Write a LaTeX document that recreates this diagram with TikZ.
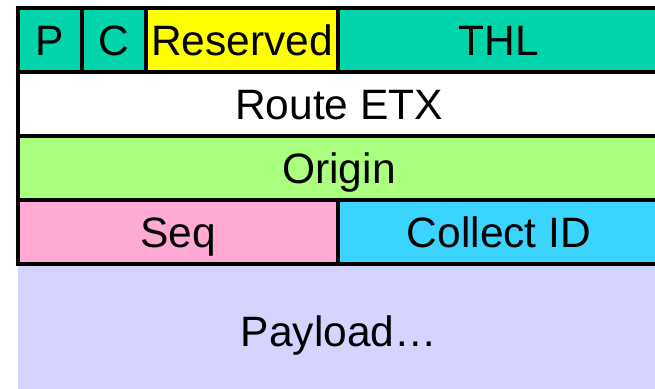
\documentclass[tikz,border=0pt]{standalone}
\usepackage{fontspec}
\setmainfont{Liberation Sans}
\usetikzlibrary{positioning}

\definecolor{hdrteal}{RGB}{0,212,170}
\definecolor{resyellow}{RGB}{255,255,0}
\definecolor{origgreen}{RGB}{170,255,127}
\definecolor{seqpink}{RGB}{255,170,212}
\definecolor{colcyan}{RGB}{58,212,255}
\definecolor{paylav}{RGB}{212,212,255}

\begin{document}
\begin{tikzpicture}[x=1pt,y=-1pt,node distance=0pt,
    field/.style={draw,line width=4pt,inner sep=0pt,outer sep=0pt,
      minimum height=64pt,text height=30.5pt,text depth=0pt,
      font=\fontsize{42.5}{44}\selectfont}]
  \clip (0,0) rectangle (655,388);
  % first row
  \node[field,fill=hdrteal,minimum width=64pt,anchor=north west] (p) at (18,8) {P};
  \node[field,fill=hdrteal,minimum width=64pt] [right=of p] (c) {C};
  \node[field,fill=resyellow,minimum width=192pt] [right=of c] (res) {Reserved};
  \node[field,fill=hdrteal,minimum width=322pt] [right=of res] (thl) {THL};
  % full rows
  \node[field,fill=white,minimum width=642pt,anchor=north west] (route) at (p.south west) {Route ETX};
  \node[field,fill=origgreen,minimum width=642pt] [below=of route] (origin) {Origin};
  % seq / collect
  \node[field,fill=seqpink,minimum width=320pt,anchor=north west] (seq) at (origin.south west) {Seq};
  \node[field,fill=colcyan,minimum width=322pt] [right=of seq] (collect) {Collect ID};
  % payload
  \node[field,draw=none,fill=paylav,minimum width=642pt,minimum height=134pt,
    anchor=north west] (payload) at (seq.south west) {Payload\ldots};
  \draw[line width=4pt] (seq.south west) -- (collect.south east);
\end{tikzpicture}
\end{document}
